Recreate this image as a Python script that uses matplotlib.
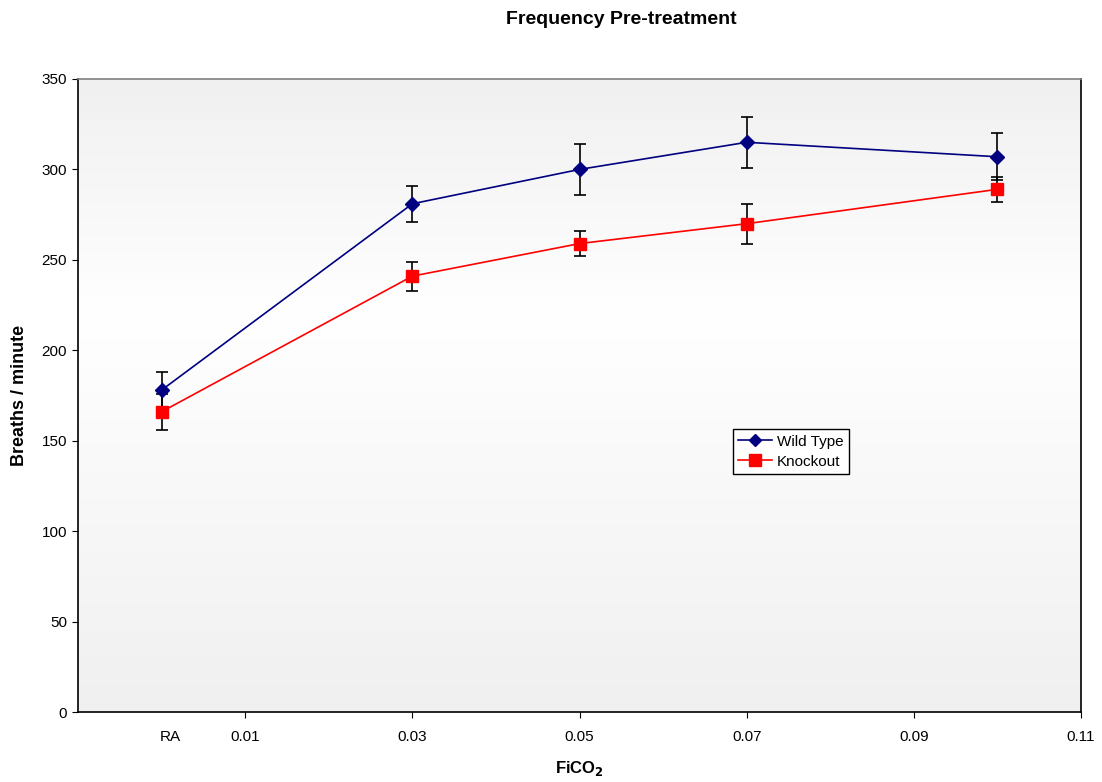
import numpy as np
import matplotlib
matplotlib.use("Agg")
from matplotlib import pyplot as plt
from matplotlib.colors import LinearSegmentedColormap
from matplotlib.lines import Line2D

plt.rcParams["font.family"] = ["Liberation Sans", "DejaVu Sans"]

# FiCO2 levels (RA plotted at 0)
fico2 = [0.0, 0.03, 0.05, 0.07, 0.10]

wild_type = [178, 281, 300, 315, 307]
wild_type_err = [10, 10, 14, 14, 13]

knockout = [166, 241, 259, 270, 289]
knockout_err = [10, 8, 7, 11, 7]

x_ticks = [0.01, 0.03, 0.05, 0.07, 0.09, 0.11]
x_tick_labels = ["0.01", "0.03", "0.05", "0.07", "0.09", "0.11"]
y_ticks = [0, 50, 100, 150, 200, 250, 300, 350]

fig = plt.figure(figsize=(11.02, 7.82), dpi=100)
ax = fig.add_axes([0.0708, 0.0895, 0.9102, 0.8095])

# background gradient: grey at top and bottom, white in the middle
cmap = LinearSegmentedColormap.from_list(
    "bg", [(0.0, "#f0f0f0"), (0.63, "#ffffff"), (1.0, "#f0f0f0")]
)
grad = np.linspace(0, 1, 256).reshape(-1, 1)
ax.imshow(grad, cmap=cmap, aspect="auto", extent=(0, 1, 1, 0),
          transform=ax.transAxes, zorder=0)

ax.errorbar(fico2, wild_type, yerr=wild_type_err, color="#000080",
            ecolor="black", elinewidth=1.2, capsize=4, capthick=1.2,
            marker="D", markersize=7, linewidth=1.2, zorder=3)
ax.errorbar(fico2, knockout, yerr=knockout_err, color="#ff0000",
            ecolor="black", elinewidth=1.2, capsize=4, capthick=1.2,
            marker="s", markersize=9, linewidth=1.2, zorder=3)

ax.set_xlim(-0.01, 0.11)
ax.set_ylim(0, 350)
ax.set_xticks(x_ticks, x_tick_labels)
ax.set_yticks(y_ticks)
ax.tick_params(direction="out", length=4, labelsize=11, color="black")
ax.tick_params(axis="x", pad=9)
ax.tick_params(axis="y", pad=4)

# RA label without a tick
ax.annotate("RA", xy=(0.001, 0), xycoords=("data", "axes fraction"),
            xytext=(0, -13), textcoords="offset points",
            ha="center", va="top", fontsize=11)

for side in ["left", "bottom", "right"]:
    ax.spines[side].set_color("black")
    ax.spines[side].set_linewidth(1.2)
ax.spines["top"].set_color("#808080")
ax.spines["top"].set_linewidth(1.2)

ax.set_xlabel("FiCO$_\\mathbf{2}$", fontsize=12, fontweight="bold")
ax.xaxis.set_label_coords(0.5, -0.074)
ax.set_ylabel("Breaths / minute", fontsize=13, fontweight="bold")
ax.yaxis.set_label_coords(-0.05, 0.5)

fig.text(0.5635, 0.975, "Frequency Pre-treatment", ha="center", va="center",
         fontsize=14, fontweight="bold")

handles = [
    Line2D([], [], color="#000080", marker="D", markersize=6, linewidth=1.2),
    Line2D([], [], color="#ff0000", marker="s", markersize=8, linewidth=1.2),
]
leg = ax.legend(handles, ["Wild Type", "Knockout"], loc="lower left",
                bbox_to_anchor=(0.653, 0.376), borderaxespad=0,
                fancybox=False, edgecolor="black", fontsize=11,
                handlelength=2.2, borderpad=0.35, labelspacing=0.4,
                handletextpad=0.3, framealpha=1)
leg.get_frame().set_linewidth(1.0)

fig.savefig("out.png", dpi=100)
